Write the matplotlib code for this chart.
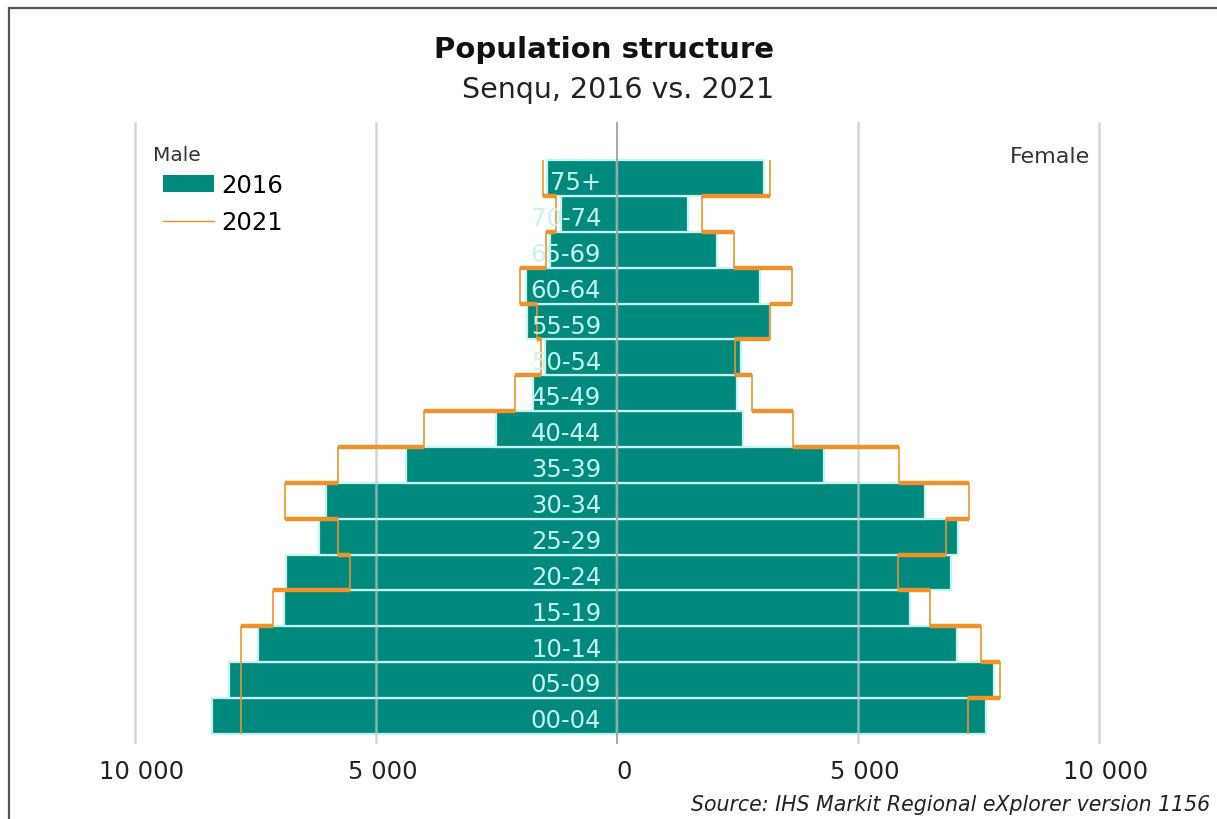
import matplotlib.pyplot as plt
import matplotlib.transforms as mtransforms
import numpy as np
from matplotlib.patches import Patch, Rectangle
from matplotlib.lines import Line2D

ages = ['00-04', '05-09', '10-14', '15-19', '20-24', '25-29', '30-34', '35-39',
        '40-44', '45-49', '50-54', '55-59', '60-64', '65-69', '70-74', '75+']
male_2016 = [8400, 8050, 7450, 6910, 6870, 6180, 6040, 4380,
             2510, 1740, 1490, 1870, 1890, 1400, 1170, 1450]
female_2016 = [7660, 7820, 7050, 6080, 6930, 7070, 6390, 4290,
               2610, 2490, 2570, 3170, 2970, 2070, 1470, 3050]
male_2021 = [7800, 7800, 7800, 7140, 5540, 5790, 6890, 5790,
             4000, 2120, 1580, 1660, 2010, 1470, 1270, 1540]
female_2021 = [7280, 7950, 7550, 6490, 5830, 6830, 7300, 5850,
               3650, 2800, 2450, 3180, 3630, 2430, 1760, 3170]
ticks = [-10000, -5000, 0, 5000, 10000]

TEAL = '#008a7e'
ORANGE = '#f0922b'
W, H = 1217, 820

fig = plt.figure(figsize=(W / 100, H / 100), dpi=100)
plt.rcParams['font.family'] = ['DejaVu Sans']

# outer frame (cropped at right and bottom)
fig.patches.append(Rectangle((9 / W, -0.1), 1.2, 1 - 9 / H + 0.1, transform=fig.transFigure,
                             fill=False, edgecolor='#555555', lw=1.6, zorder=0))

ax = fig.add_axes([96.4 / W, 1 - 745 / H, 1041.2 / W, 622 / H])
ax.set_xlim(-10800, 10800)
ax.set_ylim(-0.78, 16.56)

y = np.arange(len(ages))
m16 = -np.array(male_2016)
f16 = np.array(female_2016)
ax.barh(y, m16, height=1.0, color=TEAL, edgecolor='#c6f4f1', lw=1.6, zorder=2)
ax.barh(y, f16, height=1.0, color=TEAL, edgecolor='#c6f4f1', lw=1.6, zorder=2)

# gridlines
for t in ticks:
    if t == 0:
        ax.axvline(t, color='#8a8a8a', lw=1.3, zorder=3, alpha=0.8)
    else:
        ax.axvline(t, color='#c4c4c4', lw=1.8, zorder=3, alpha=0.7)

# 2021 outline as steps
for vals in (-np.array(male_2021), np.array(female_2021)):
    xs = np.repeat(vals, 2)
    ys = np.ravel(np.column_stack([y - 0.5, y + 0.5]))
    ax.plot(xs, ys, color=ORANGE, lw=1.2, zorder=4, solid_capstyle='butt')
    for i in range(len(vals) - 1):
        ax.plot([vals[i], vals[i + 1]], [i + 0.5, i + 0.5], color=ORANGE, lw=3.2,
                zorder=4, solid_capstyle='butt')

for i, lab in enumerate(ages):
    ax.text(-330, i - 0.12, lab, ha='right', va='center', fontsize=17.5,
            color='#c9f3f0', zorder=5)

ax.set_xticks(ticks)
ax.set_xticklabels([f"{abs(t):,}".replace(',', ' ') for t in ticks], fontsize=17.5, color='#222222')
ax.tick_params(axis='x', length=0, pad=11)
shift = mtransforms.ScaledTranslation(7 / 100, 0, fig.dpi_scale_trans)
for lbl in ax.get_xticklabels():
    lbl.set_transform(lbl.get_transform() + shift)
ax.set_yticks([])
for s in ax.spines.values():
    s.set_visible(False)
ax.patch.set_alpha(0)

fig.text(604 / W, 1 - 50 / H, 'Population structure', ha='center', va='center',
         fontsize=21, fontweight='bold', color='#111111')
fig.text(618 / W, 1 - 90 / H, 'Senqu, 2016 vs. 2021', ha='center', va='center',
         fontsize=20.5, color='#222222')
fig.text(153 / W, 1 - 156 / H, 'Male', ha='left', va='center', fontsize=14.5, color='#333333')
fig.text(1090 / W, 1 - 157 / H, 'Female', ha='right', va='center', fontsize=16, color='#333333')
fig.text(1210 / W, 1 - 805 / H, 'Source: IHS Markit Regional eXplorer version 1156',
         ha='right', va='center', fontsize=14.8, style='italic', color='#222222')

handles = [Patch(facecolor=TEAL, edgecolor='none'), Line2D([], [], color=ORANGE, lw=1)]
ax.legend(handles, ['2016', '2021'], loc='upper left', bbox_to_anchor=(163 / W, 1 - 174 / H),
          bbox_transform=fig.transFigure, frameon=False, fontsize=17.5, borderpad=0,
          borderaxespad=0, handlelength=2.1, handletextpad=0.3, labelspacing=0.55)

fig.savefig('out.png', dpi=100)
